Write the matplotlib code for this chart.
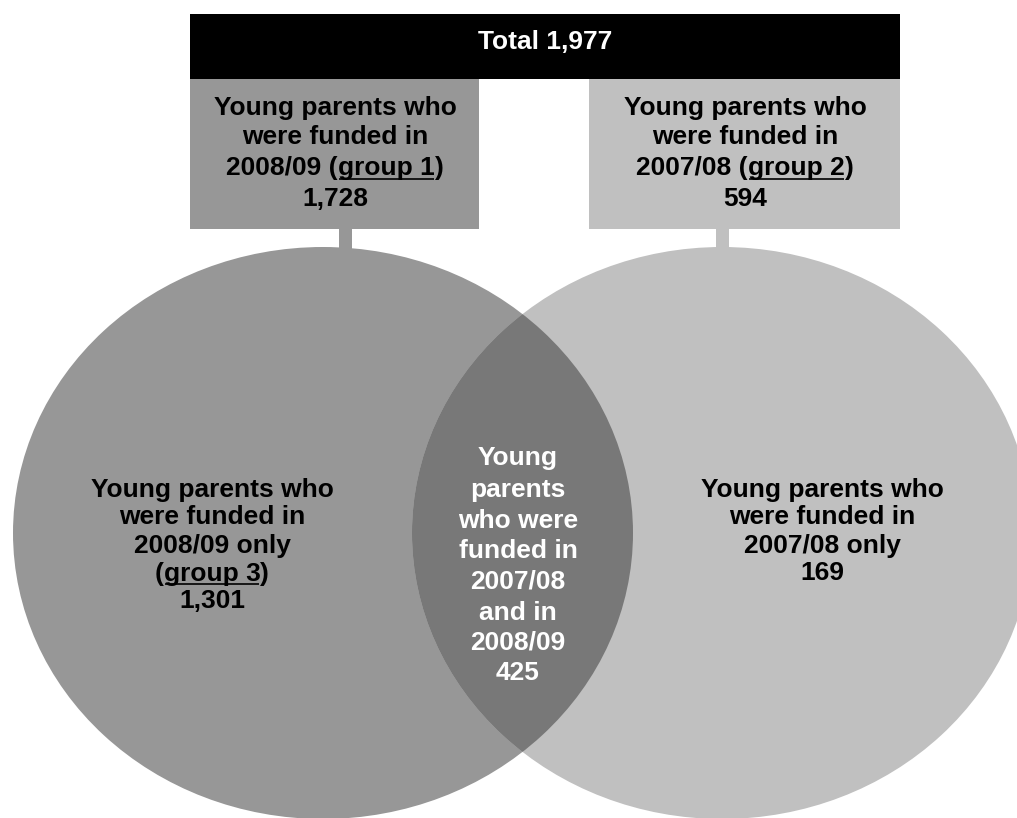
import matplotlib
matplotlib.use('Agg')
import matplotlib.pyplot as plt
from matplotlib.patches import Ellipse, Rectangle

# 数据
total = 1977
funded_0809 = 1728      # group 1
funded_0708 = 594       # group 2
only_0809 = 1301        # group 3
both_years = 425
only_0708 = 169

# 文本（每行: 前缀, 下划线部分, 后缀）
box1_lines = [("Young parents who", "", ""), ("were funded in", "", ""),
              ("2008/09 (", "group 1", ")"), (f"{funded_0809:,}", "", "")]
box2_lines = [("Young parents who", "", ""), ("were funded in", "", ""),
              ("2007/08 (", "group 2", ")"), (f"{funded_0708:,}", "", "")]
left_lines = [("Young parents who", "", ""), ("were funded in", "", ""),
              ("2008/09 only", "", ""), ("(", "group 3", ")"), (f"{only_0809:,}", "", "")]
mid_lines = [("Young", "", ""), ("parents", "", ""), ("who were", "", ""),
             ("funded in", "", ""), ("2007/08", "", ""), ("and in", "", ""),
             ("2008/09", "", ""), (f"{both_years:,}", "", "")]
right_lines = [("Young parents who", "", ""), ("were funded in", "", ""),
               ("2007/08 only", "", ""), (f"{only_0708:,}", "", "")]

# 颜色
c_left = '#979797'
c_right = '#c0c0c0'
c_mid = '#787878'

plt.rcParams['font.family'] = ['Liberation Sans', 'DejaVu Sans']
FS = 19

fig = plt.figure(figsize=(10.17, 8.18), dpi=100)
ax = fig.add_axes([0, 0, 1, 1])
ax.set_xlim(0, 1017)
ax.set_ylim(818, 0)
ax.axis('off')
renderer = fig.canvas.get_renderer()


def text_width(s):
    if not s:
        return 0.0
    t = ax.text(0, 0, s, fontsize=FS, fontweight='bold')
    w = t.get_window_extent(renderer).width
    t.remove()
    return w


def draw_lines(xc, ys, lines, color):
    for y, (pre, ul, post) in zip(ys, lines):
        base = y + 8.5
        w1, w2, w3 = text_width(pre), text_width(ul), text_width(post)
        x0 = xc - (w1 + w2 + w3) / 2
        for s, xs in ((pre, x0), (ul, x0 + w1), (post, x0 + w1 + w2)):
            if s:
                ax.text(xs, base, s, fontsize=FS, fontweight='bold', color=color,
                        ha='left', va='baseline', zorder=6)
        if ul:
            ax.plot([x0 + w1 + 1, x0 + w1 + w2 - 1], [base + 3.5, base + 3.5],
                    color=color, lw=1.2, solid_capstyle='butt', zorder=6)


# 圆（椭圆）
left_c = Ellipse((323, 533), 620, 572, facecolor=c_left, edgecolor='none', zorder=1)
right_c = Ellipse((722, 533), 620, 572, facecolor=c_right, edgecolor='none', zorder=2)
ax.add_patch(left_c)
ax.add_patch(right_c)
# 交集部分
lens = Ellipse((323, 533), 620, 572, facecolor=c_mid, edgecolor='none', zorder=3)
ax.add_patch(lens)
lens.set_clip_path(right_c)

# 顶部方框
ax.add_patch(Rectangle((190, 14), 710, 65, facecolor='black', edgecolor='none', zorder=4))
ax.add_patch(Rectangle((190, 79), 289, 150, facecolor=c_left, edgecolor='none', zorder=4))
ax.add_patch(Rectangle((589, 79), 311, 150, facecolor=c_right, edgecolor='none', zorder=4))
ax.add_patch(Rectangle((339, 229), 13, 21, facecolor=c_left, edgecolor='none', zorder=4))
ax.add_patch(Rectangle((716, 229), 13, 21, facecolor=c_right, edgecolor='none', zorder=4))

ax.text(545, 42, f"Total {total:,}", fontsize=FS, fontweight='bold', color='white',
        ha='center', va='center', zorder=6)

draw_lines(335, [106, 136, 167, 197], box1_lines, 'black')
draw_lines(745, [106, 136, 167, 197], box2_lines, 'black')
draw_lines(212, [488, 516, 544, 572, 599], left_lines, 'black')
draw_lines(518, [457, 488, 519, 550, 580, 611, 641, 672], mid_lines, 'white')
draw_lines(822, [488, 516, 544, 572], right_lines, 'black')

plt.savefig('out.png', dpi=100)
